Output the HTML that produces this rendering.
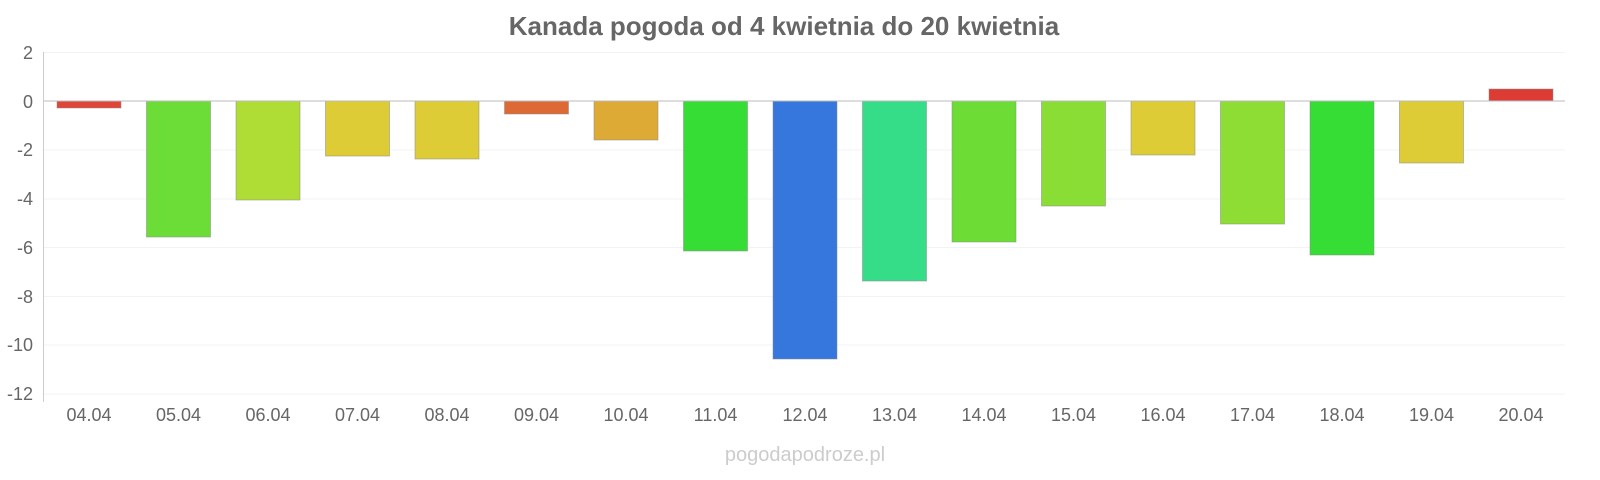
<!DOCTYPE html>
<html><head><meta charset="utf-8"><style>
body{margin:0;background:#fff;}
svg{display:block;font-family:"Liberation Sans",sans-serif;}
</style></head><body>
<svg width="1600" height="480" viewBox="0 0 1600 480">
<text x="784" y="35" text-anchor="middle" font-size="26" font-weight="bold" fill="#666">Kanada pogoda od 4 kwietnia do 20 kwietnia</text>
<g stroke="#f3f3f3" stroke-width="1">
<line x1="44" x2="1565" y1="52.5" y2="52.5"/>
<line x1="44" x2="1565" y1="150" y2="150"/>
<line x1="44" x2="1565" y1="199" y2="199"/>
<line x1="44" x2="1565" y1="247.5" y2="247.5"/>
<line x1="44" x2="1565" y1="296.5" y2="296.5"/>
<line x1="44" x2="1565" y1="345" y2="345"/>
<line x1="44" x2="1565" y1="394" y2="394"/>
</g>
<g font-size="18" fill="#666" text-anchor="end">
<text x="33" y="59">2</text>
<text x="33" y="108">0</text>
<text x="33" y="156">-2</text>
<text x="33" y="205">-4</text>
<text x="33" y="254">-6</text>
<text x="33" y="303">-8</text>
<text x="33" y="351">-10</text>
<text x="33" y="400">-12</text>
</g>
<g stroke-width="1" stroke-opacity="0.5" stroke="#888">
<rect x="57" y="101" width="64" height="7" fill="#e0453a"/>
<rect x="146.5" y="101" width="64" height="136" fill="#6cdd37"/>
<rect x="236" y="101" width="64" height="99" fill="#b0dd35"/>
<rect x="325.5" y="101" width="64" height="55" fill="#ddcc35"/>
<rect x="415" y="101" width="64" height="58" fill="#ddcc35"/>
<rect x="504.5" y="101" width="64" height="13" fill="#dd6a35"/>
<rect x="594" y="101" width="64" height="39" fill="#ddaa35"/>
<rect x="683.5" y="101" width="64" height="150" fill="#35dd35"/>
<rect x="773" y="101" width="64" height="258" fill="#3577dd"/>
<rect x="862.5" y="101" width="64" height="180" fill="#35dd88"/>
<rect x="952" y="101" width="64" height="141" fill="#6ddd35"/>
<rect x="1041.5" y="101" width="64" height="105" fill="#8add35"/>
<rect x="1131" y="101" width="64" height="54" fill="#ddcc35"/>
<rect x="1220.5" y="101" width="64" height="123" fill="#8ddd35"/>
<rect x="1310" y="101" width="64" height="154" fill="#35dd35"/>
<rect x="1399.5" y="101" width="64" height="62" fill="#ddcc35"/>
<rect x="1489" y="89" width="64" height="12" fill="#dd3c35"/>
</g>
<line x1="44" x2="1565" y1="101" y2="101" stroke="#bbb" stroke-width="1"/>
<line x1="43.5" x2="43.5" y1="52" y2="402" stroke="#ccc" stroke-width="1"/>
<g font-size="18" fill="#666" text-anchor="middle">
<text x="89" y="421">04.04</text>
<text x="178.5" y="421">05.04</text>
<text x="268" y="421">06.04</text>
<text x="357.5" y="421">07.04</text>
<text x="447" y="421">08.04</text>
<text x="536.5" y="421">09.04</text>
<text x="626" y="421">10.04</text>
<text x="715.5" y="421">11.04</text>
<text x="805" y="421">12.04</text>
<text x="894.5" y="421">13.04</text>
<text x="984" y="421">14.04</text>
<text x="1073.5" y="421">15.04</text>
<text x="1163" y="421">16.04</text>
<text x="1252.5" y="421">17.04</text>
<text x="1342" y="421">18.04</text>
<text x="1431.5" y="421">19.04</text>
<text x="1521" y="421">20.04</text>
</g>
<text x="805" y="461" text-anchor="middle" font-size="20" fill="#ccc">pogodapodroze.pl</text>
</svg>
</body></html>
